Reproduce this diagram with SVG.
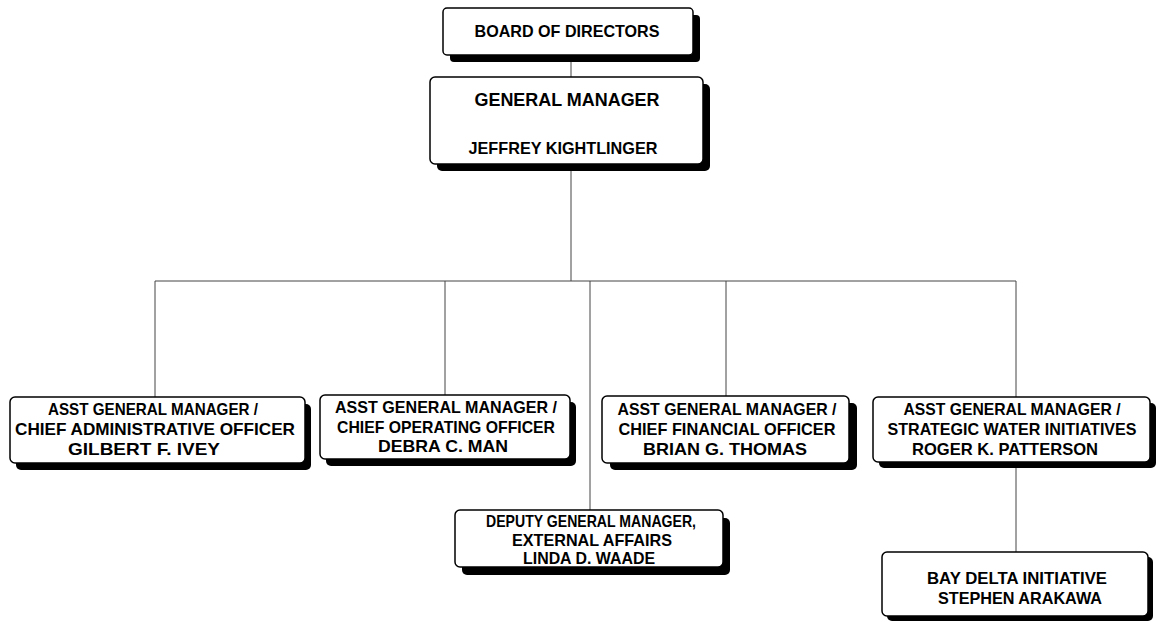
<svg xmlns="http://www.w3.org/2000/svg" width="1157" height="622" viewBox="0 0 1157 622">
<style>
.sh{fill:#000}
.bx{fill:#fff;stroke:#000;stroke-width:1.5}
.t{font-family:"Liberation Sans",Arial,sans-serif;font-weight:bold;font-size:16.5px;text-anchor:middle;fill:#000}
.big{font-size:19px}
.ln{stroke:#444;stroke-width:1;fill:none}
</style>
<rect width="1157" height="622" fill="#fff"/>
<g id="connectors">
<line class="ln" x1="571" y1="55" x2="571" y2="77"/>
<line class="ln" x1="571" y1="164" x2="571" y2="281"/>
<line class="ln" x1="155" y1="281" x2="1016" y2="281"/>
<line class="ln" x1="155" y1="281" x2="155" y2="397"/>
<line class="ln" x1="445" y1="281" x2="445" y2="395"/>
<line class="ln" x1="590" y1="281" x2="590" y2="510"/>
<line class="ln" x1="726" y1="281" x2="726" y2="396"/>
<line class="ln" x1="1016" y1="281" x2="1016" y2="397"/>
<line class="ln" x1="1016" y1="462" x2="1016" y2="552"/>
</g>
<g id="board">
<rect class="sh" x="450" y="15" width="250" height="47" rx="4"/>
<rect class="bx" x="443" y="8" width="250" height="47" rx="4"/>
<text class="t" x="567" y="37" textLength="185" lengthAdjust="spacingAndGlyphs">BOARD OF DIRECTORS</text>
</g>
<g id="gm">
<rect class="sh" x="437" y="84" width="273" height="87" rx="5"/>
<rect class="bx" x="430" y="77" width="273" height="87" rx="5"/>
<text class="t big" x="567" y="106" textLength="185" lengthAdjust="spacingAndGlyphs">GENERAL MANAGER</text>
<text class="t" x="563" y="154" textLength="189" lengthAdjust="spacingAndGlyphs">JEFFREY KIGHTLINGER</text>
</g>
<g id="cao">
<rect class="sh" x="16" y="404" width="295" height="66" rx="5"/>
<rect class="bx" x="10" y="397" width="295" height="66" rx="5"/>
<text class="t" x="153" y="415" textLength="210" lengthAdjust="spacingAndGlyphs">ASST GENERAL MANAGER /</text>
<text class="t" x="155" y="435" textLength="280" lengthAdjust="spacingAndGlyphs">CHIEF ADMINISTRATIVE OFFICER</text>
<text class="t" x="144" y="455" textLength="152" lengthAdjust="spacingAndGlyphs">GILBERT F. IVEY</text>
</g>
<g id="coo">
<rect class="sh" x="326" y="402" width="250" height="64" rx="5"/>
<rect class="bx" x="320" y="395" width="250" height="64" rx="5"/>
<text class="t" x="446" y="413" textLength="222" lengthAdjust="spacingAndGlyphs">ASST GENERAL MANAGER /</text>
<text class="t" x="446" y="433" textLength="218" lengthAdjust="spacingAndGlyphs">CHIEF OPERATING OFFICER</text>
<text class="t" x="443" y="452" textLength="130" lengthAdjust="spacingAndGlyphs">DEBRA C. MAN</text>
</g>
<g id="cfo">
<rect class="sh" x="610" y="403" width="247" height="67" rx="5"/>
<rect class="bx" x="602" y="396" width="247" height="67" rx="5"/>
<text class="t" x="727" y="415" textLength="219" lengthAdjust="spacingAndGlyphs">ASST GENERAL MANAGER /</text>
<text class="t" x="727" y="435" textLength="217" lengthAdjust="spacingAndGlyphs">CHIEF FINANCIAL OFFICER</text>
<text class="t" x="725" y="455" textLength="164" lengthAdjust="spacingAndGlyphs">BRIAN G. THOMAS</text>
</g>
<g id="swi">
<rect class="sh" x="879" y="403" width="277" height="65" rx="5"/>
<rect class="bx" x="873" y="397" width="277" height="65" rx="5"/>
<text class="t" x="1012" y="415" textLength="217" lengthAdjust="spacingAndGlyphs">ASST GENERAL MANAGER /</text>
<text class="t" x="1012" y="435" textLength="249" lengthAdjust="spacingAndGlyphs">STRATEGIC WATER INITIATIVES</text>
<text class="t" x="1005" y="455" textLength="186" lengthAdjust="spacingAndGlyphs">ROGER K. PATTERSON</text>
</g>
<g id="deputy">
<rect class="sh" x="462" y="518" width="268" height="57" rx="5"/>
<rect class="bx" x="455" y="510" width="268" height="57" rx="5"/>
<text class="t" x="591" y="527" textLength="210" lengthAdjust="spacingAndGlyphs">DEPUTY GENERAL MANAGER,</text>
<text class="t" x="592" y="546" textLength="160" lengthAdjust="spacingAndGlyphs">EXTERNAL AFFAIRS</text>
<text class="t" x="589" y="564" textLength="132" lengthAdjust="spacingAndGlyphs">LINDA D. WAADE</text>
</g>
<g id="baydelta">
<rect class="sh" x="887" y="557" width="266" height="64" rx="5"/>
<rect class="bx" x="882" y="552" width="266" height="64" rx="5"/>
<text class="t" x="1017" y="584" textLength="180" lengthAdjust="spacingAndGlyphs">BAY DELTA INITIATIVE</text>
<text class="t" x="1020" y="604" textLength="164" lengthAdjust="spacingAndGlyphs">STEPHEN ARAKAWA</text>
</g>
</svg>
